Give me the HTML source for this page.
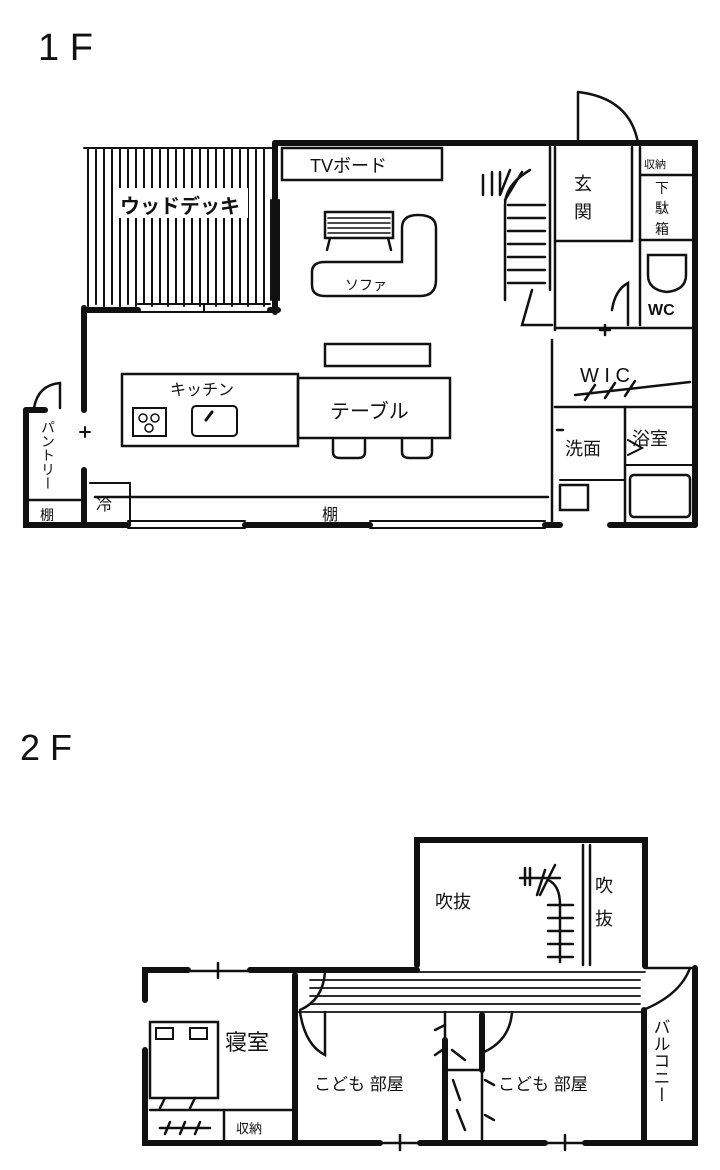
<!DOCTYPE html>
<html><head><meta charset="utf-8"><style>
html,body{margin:0;padding:0;background:#fff;}
svg{display:block;}
text{font-family:"Liberation Sans","Noto Sans CJK JP",sans-serif;fill:#111;}
</style></head><body>
<svg width="720" height="1170" viewBox="0 0 720 1170" xmlns="http://www.w3.org/2000/svg" stroke="#111" fill="none" stroke-linecap="round">
<!-- ===== 1F ===== -->
<text x="38" y="60" font-size="38" stroke="none">1 F</text>

<!-- deck stripes -->
<g stroke-width="2">
<path d="M88 148V306 M96 150V304 M104 148V306 M112 150V304 M120 148V306 M128 150V304 M136 148V306 M144 150V304 M152 148V306 M160 150V304 M168 148V306 M176 150V304 M184 148V306 M192 150V304 M200 148V306 M208 150V304 M216 148V306 M224 150V304 M232 148V306 M240 150V304 M248 148V306 M256 150V304 M264 148V306"/>
<path d="M84 148H272"/>
</g>
<rect x="118" y="188" width="130" height="30" fill="#fff" stroke="none"/>
<text x="120" y="213" font-size="20" font-weight="bold" stroke="none">ウッドデッキ</text>

<!-- outer walls -->
<g stroke-width="6">
<path d="M275 143H695V525"/>
<path d="M275 143V312"/>
<path d="M84 310H138 M270 310H278"/>
<path d="M84 308V410"/>
<path d="M84 470V525H128 M245 525H370 M545 525H560 M610 525H695"/>
<path d="M26 410V525H84"/>
<path d="M26 410H45"/>
</g>
<!-- windows -->
<g stroke-width="2">
<path d="M138 304H270 M138 312H270 M204 304V312"/>
<path d="M128 521H245 M128 528H245 M370 521H545 M370 528H545"/>
<path d="M271 200V300 M279 200V300"/>
</g>
<!-- entrance door -->
<g stroke-width="2.5">
<path d="M578 92V143 M578 92Q630 98 638 143"/>
</g>

<!-- TV board -->
<rect x="282" y="148" width="160" height="32" stroke-width="2.5"/>
<text x="310" y="172" font-size="18" stroke="none">TVボード</text>

<!-- stairs -->
<g stroke-width="2.5">
<path d="M550 147V290"/>
<path d="M505 300V205 Q505 185 530 170"/>
<path d="M508 205H545 M508 218H545 M508 231H545 M508 244H545 M508 257H545 M508 270H545 M508 283H545"/>
<path d="M483 175V195 M492 172V195 M500 172V195 M510 170L500 195 M522 172L505 200"/>
<path d="M532 290L522 325H552"/>
</g>

<!-- interior partition right -->
<g stroke-width="2.5">
<path d="M555 147V330 M552 340V525"/>
<path d="M555 241H632"/>
<path d="M555 328H695"/>
<path d="M555 407H695"/>
<path d="M632 147V241"/>
<path d="M640 147V240 M640 175H695 M640 240H695"/>
<path d="M640 240V325"/>
<path d="M612 310Q615 290 628 283 V325"/>
<path d="M625 407V525"/>
<path d="M575 395L690 382 M585 400L595 385 M605 398L615 383 M625 396L635 381"/>
<path d="M605 325V335 M600 330H610 M557 430H563"/>
</g>
<text x="574" y="190" font-size="18" stroke="none">玄</text>
<text x="574" y="218" font-size="18" stroke="none">関</text>
<text x="644" y="168" font-size="11" stroke="none">収納</text>
<text x="655" y="193" font-size="14" stroke="none">下</text>
<text x="655" y="213" font-size="14" stroke="none">駄</text>
<text x="655" y="234" font-size="14" stroke="none">箱</text>
<path d="M648 255H686V275Q686 290 667 292Q648 290 648 275Z" stroke-width="2.5"/>
<text x="648" y="315" font-size="16" font-weight="bold" stroke="none">WC</text>
<text x="580" y="382" font-size="20" stroke="none">W I C</text>
<text x="565" y="455" font-size="18" stroke="none">洗面</text>
<text x="632" y="445" font-size="18" stroke="none">浴室</text>
<path d="M628 440L642 448L628 455" stroke-width="2"/>
<rect x="560" y="485" width="28" height="25" stroke-width="2.5"/>
<rect x="630" y="475" width="60" height="42" rx="4" stroke-width="2.5"/>
<path d="M560 480H625 M625 465H695" stroke-width="2"/>

<!-- sofa and coffee table -->
<g stroke-width="2.5">
<path d="M325 212H393V238H325Z"/>
<path d="M328 218H390 M328 223H390 M328 228H390 M328 233H390" stroke-width="1.5"/>
<path d="M330 238L327 250 M388 238L391 250"/>
<path d="M312 272Q312 262 325 262H402V228Q402 215 418 215Q436 215 436 228V280Q436 296 420 296H325Q312 296 312 285Z"/>
</g>
<text x="345" y="290" font-size="14" stroke="none">ソファ</text>

<!-- bench -->
<rect x="325" y="344" width="105" height="22" stroke-width="2.5"/>
<!-- kitchen -->
<rect x="122" y="374" width="176" height="72" stroke-width="2.5"/>
<text x="170" y="395" font-size="16" stroke="none">キッチン</text>
<rect x="133" y="408" width="33" height="28" stroke-width="2"/>
<circle cx="143" cy="418" r="4" stroke-width="1.5"/><circle cx="155" cy="418" r="4" stroke-width="1.5"/><circle cx="149" cy="428" r="4" stroke-width="1.5"/>
<rect x="192" y="406" width="45" height="30" rx="4" stroke-width="2"/>
<path d="M206 420L212 412" stroke-width="3"/>
<!-- table -->
<rect x="298" y="378" width="152" height="60" stroke-width="2.5"/>
<text x="330" y="418" font-size="20" stroke="none">テーブル</text>
<path d="M333 438V452Q333 458 340 458H358Q365 458 365 452V438 M402 438V452Q402 458 410 458H426Q432 458 432 452V438" stroke-width="2.5"/>

<!-- shelf -->
<path d="M95 497H548" stroke-width="2.5"/>
<path d="M130 483V525 M90 483H130" stroke-width="2"/>
<text x="96" y="510" font-size="16" stroke="none">冷</text>
<text x="322" y="520" font-size="16" stroke="none">棚</text>
<!-- pantry -->
<path d="M34 408Q38 385 60 383V408 M26 500H84" stroke-width="2.5"/>
<path d="M80 432H90 M85 427V437" stroke-width="2"/>
<text font-size="14" stroke="none" writing-mode="tb" x="48" y="420">パントリー</text>
<text x="40" y="520" font-size="14" stroke="none">棚</text>

<!-- ===== 2F ===== -->
<text x="20" y="760" font-size="36" stroke="none">2 F</text>
<g stroke-width="6">
<path d="M417 965V840H645V966"/>
<path d="M145 1000V970H188 M250 970H417"/>
<path d="M145 1050V1143H380 M420 1143H545 M585 1143H695V968"/>
<path d="M645 968H695" stroke-width="2.5"/>
<path d="M295 975V1140"/>
<path d="M445 1040V1143 M482 1015V1070"/>
<path d="M644 1010V1143"/>
</g>
<g stroke-width="2.5">
<path d="M188 971H250 M218 963V978"/>
<path d="M380 1143H420 M400 1135V1150 M545 1143H585 M565 1135V1150"/>
<!-- corridor -->
<path d="M295 972H645 M295 1012H645 M310 980H640 M310 988H640 M310 996H640 M310 1004H640" stroke-width="1.8"/>
<path d="M300 1010Q323 1000 325 972"/>
<path d="M643 1010Q680 995 690 968"/>
<path d="M300 1012Q305 1045 325 1055V1012"/>
<path d="M484 1052Q510 1040 512 1012"/>
<!-- upper block stairs -->
<path d="M583 845V965 M590 845V965"/>
<path d="M560 962V905Q560 885 548 880"/>
<path d="M548 905H573 M548 918H573 M548 931H573 M548 944H573 M548 957H573"/>
<path d="M525 868V885 M530 868V885 M520 878H560 M545 870L537 895 M555 865L540 895"/>
<!-- closets -->
<path d="M445 1012V1040 M445 1070H482 M482 1070V1143 M452 1050L465 1060"/>
<path d="M435 1030L445 1025 M435 1055L445 1048 M485 1080L494 1085 M485 1115L494 1120"/>
<path d="M453 1080L460 1100 M457 1110L465 1130"/>
<!-- bedroom -->
<rect x="150" y="1022" width="68" height="76"/>
<rect x="156" y="1028" width="17" height="11" stroke-width="2"/><rect x="190" y="1028" width="17" height="11" stroke-width="2"/>
<path d="M165 1098L160 1108 M195 1098L190 1108"/>
<path d="M150 1110H295 M224 1110V1143"/>
<path d="M160 1128H210 M170 1122L165 1134 M185 1122L180 1134 M200 1122L195 1134"/>
</g>
<text x="435" y="908" font-size="18" stroke="none">吹抜</text>
<text x="595" y="892" font-size="18" stroke="none">吹</text>
<text x="595" y="925" font-size="18" stroke="none">抜</text>
<text x="225" y="1050" font-size="22" stroke="none">寝室</text>
<text x="236" y="1133" font-size="13" stroke="none">収納</text>
<text x="314" y="1090" font-size="17" stroke="none">こども 部屋</text>
<text x="498" y="1090" font-size="17" stroke="none">こども 部屋</text>
<text font-size="17" stroke="none" writing-mode="tb" x="660" y="1018">バルコニー</text>
</svg>
</body></html>
